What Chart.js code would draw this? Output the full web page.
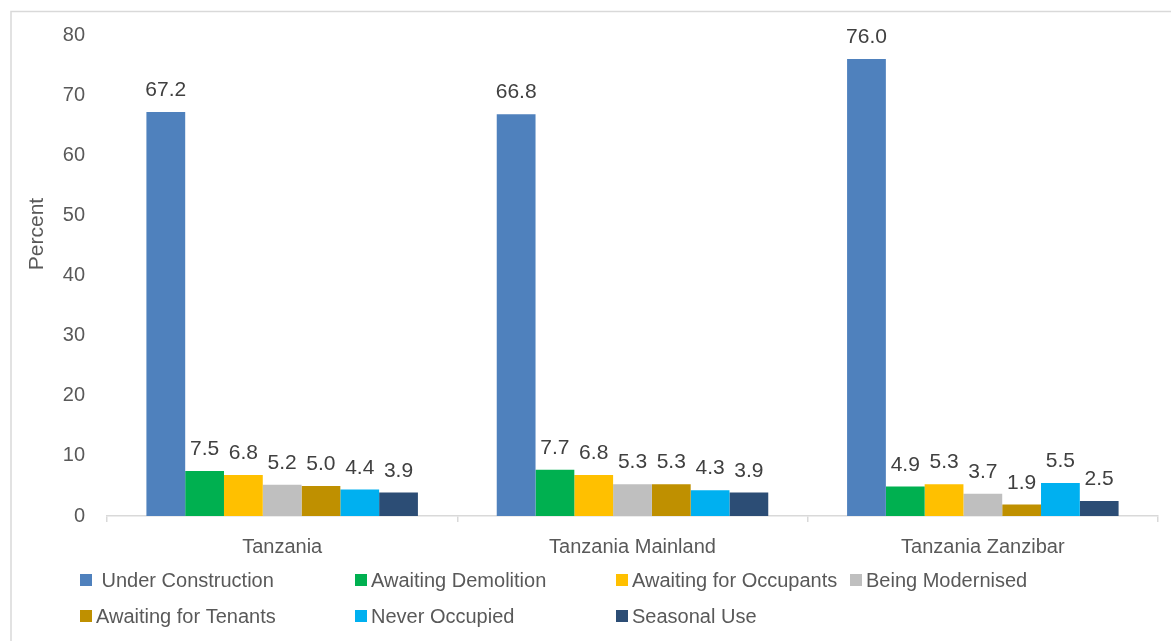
<!DOCTYPE html>
<html>
<head>
<meta charset="utf-8">
<script src="https://cdn.jsdelivr.net/npm/chart.js@4.4.1/dist/chart.umd.min.js"></script>
<style>
	body { margin: 0; background: #fff; }
	#wrap { width: 1171px; height: 641px; }
</style>
</head>
<body>
<div id="wrap"><canvas id="myChart" width="1171" height="641"></canvas></div>
<script>
const FONT = "'Liberation Sans', Arial, sans-serif";

const regions = ["Tanzania", "Tanzania Mainland", "Tanzania Zanzibar"];
const seriesNames = [" Under Construction", "Awaiting Demolition", "Awaiting for Occupants", "Being Modernised",
	"Awaiting for Tenants", "Never Occupied", "Seasonal Use"];
const underConstruction = [67.2, 66.8, 76.0];
const awaitingDemolition = [7.5, 7.7, 4.9];
const awaitingOccupants = [6.8, 6.8, 5.3];
const beingModernised = [5.2, 5.3, 3.7];
const awaitingTenants = [5.0, 5.3, 1.9];
const neverOccupied = [4.4, 4.3, 5.5];
const seasonalUse = [3.9, 3.9, 2.5];
const yTicks = [0, 10, 20, 30, 40, 50, 60, 70, 80];

const seriesValues = [underConstruction, awaitingDemolition, awaitingOccupants, beingModernised,
	awaitingTenants, neverOccupied, seasonalUse];
const colors = ["#4f81bd", "#00b050", "#ffc000", "#bfbfbf", "#bf9000", "#00b0f0", "#2c4d75"];

// frame, value labels, axis title and a grid legend
const extras = {
	id: "extras",
	beforeDraw(chart) {
		const c = chart.ctx;
		c.save();
		c.fillStyle = "#fff";
		c.fillRect(0, 0, chart.width, chart.height);
		c.strokeStyle = "#d9d9d9";
		c.lineWidth = 1.5;
		c.strokeRect(11, 11.5, 1400, 900);
		c.restore();
	},
	afterDatasetsDraw(chart) {
		const c = chart.ctx;
		c.save();
		c.font = "21px " + FONT;
		c.fillStyle = "#404040";
		c.textAlign = "center";
		c.textBaseline = "alphabetic";
		chart.data.datasets.forEach((ds, i) => {
			chart.getDatasetMeta(i).data.forEach((bar, j) => {
				c.fillText(ds.data[j].toFixed(1), bar.x, bar.y - 16);
			});
		});
		c.restore();
	},
	afterDraw(chart) {
		const c = chart.ctx;
		c.save();
		// y title
		c.font = "21px " + FONT;
		c.fillStyle = "#595959";
		c.translate(37, 234);
		c.rotate(-Math.PI / 2);
		c.textAlign = "center";
		c.textBaseline = "middle";
		c.fillText("Percent", 0, 0);
		c.restore();

		// legend
		const cols = [80, 355, 616, 850];
		const rows = [580, 616];
		c.save();
		c.font = "20px " + FONT;
		c.textBaseline = "middle";
		c.textAlign = "left";
		chart.data.datasets.forEach((ds, i) => {
			const x = cols[i < 4 ? i : i - 4];
			const y = rows[i < 4 ? 0 : 1];
			c.fillStyle = ds.backgroundColor;
			c.fillRect(x, y - 6, 12, 12);
			c.fillStyle = "#595959";
			c.fillText(ds.label, x + 16, y + 1);
		});
		c.restore();
	},
};

const ctx = document.getElementById("myChart");

const myChart = new Chart(ctx, {
	type: "bar",
	data: {
		labels: regions,
		datasets: seriesValues.map((vals, i) => ({
			label: seriesNames[i],
			data: vals,
			backgroundColor: colors[i],
			categoryPercentage: 0.775,
			barPercentage: 1,
		})),
	},
	options: {
		responsive: false,
		animation: false,
		layout: { padding: { left: 0, right: 13, top: 35, bottom: 0 } },
		plugins: {
			legend: { display: false },
			tooltip: { enabled: false },
		},
		scales: {
			x: {
				offset: true,
				grid: { display: true, drawOnChartArea: false, offset: true, tickLength: 6, color: "#d9d9d9", lineWidth: 1.5 },
				border: { color: "#d9d9d9", width: 1.5 },
				ticks: { font: { family: FONT, size: 20 }, color: "#595959", padding: 13 },
				afterFit: (s) => { s.height = 125; },
			},
			y: {
				min: 0,
				max: 80,
				afterBuildTicks: (s) => { s.ticks = yTicks.map((v) => ({ value: v })); },
				grid: { display: false, drawTicks: false },
				border: { display: false },
				ticks: { font: { family: FONT, size: 20 }, color: "#595959", padding: 22 },
				afterFit: (s) => { s.width = 107; },
			},
		},
	},
	plugins: [extras],
});
</script>
</body>
</html>
